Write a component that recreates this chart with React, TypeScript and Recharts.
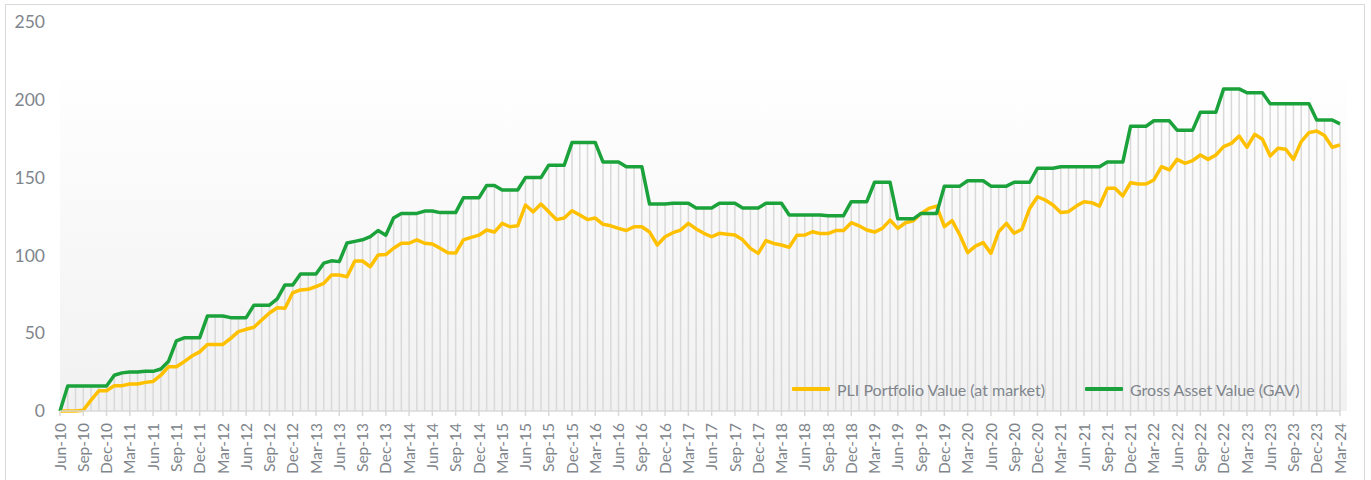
import React from 'react';
import { ComposedChart, Line, XAxis, YAxis, ReferenceLine, ReferenceArea } from 'recharts';

const MONTH_NAMES = ['Jan', 'Feb', 'Mar', 'Apr', 'May', 'Jun', 'Jul', 'Aug', 'Sep', 'Oct', 'Nov', 'Dec'];
// Monthly categories Jun-10 .. Mar-24
const CATEGORIES: string[] = Array.from({ length: 166 }, (_, k) => {
  const m = (5 + k) % 12;
  const y = 10 + Math.floor((5 + k) / 12);
  return `${MONTH_NAMES[m]}-${y}`;
});

const SERIES_NAMES = ['PLI Portfolio Value (at market)', 'Gross Asset Value (GAV)'];

const PLI: number[] = [
  0, 0, 0, 0.5, 7, 13, 13, 16.3, 16.3, 17.4, 17.4, 18.4,
  19, 23, 28.5, 28.5, 31.7, 35.3, 38, 42.8, 42.8, 42.8, 46.7, 51,
  52.5, 53.8, 58.5, 63, 66.4, 66, 76, 77.8, 78.2, 80, 82, 87.4,
  87.4, 86.3, 96.4, 96.4, 92.7, 100.3, 100.5, 104.6, 107.8, 107.8, 110, 107.8,
  107.3, 104.6, 101.7, 101.5, 110, 111.6, 113, 116.3, 115, 120.6, 118.4, 119,
  132.4, 128, 133, 128, 123, 124, 128.7, 126, 123, 124, 120, 119,
  117.4, 116, 118.4, 118.4, 115, 106.7, 112, 114.6, 116.3, 120.6, 117, 114.2,
  112, 114.2, 113.6, 113.1, 110, 104.5, 101.3, 109.5, 107.7, 106.7, 105.2, 113,
  113.1, 115.2, 114, 114, 116, 116, 121, 119, 116.3, 115, 117.4, 122.7,
  117.4, 121, 122.3, 127, 130.2, 131.7, 118.5, 122.3, 113.1, 101.8, 106, 108.2,
  101.3, 115.2, 120.6, 114.2, 116.8, 130.2, 137.7, 135.6, 132.4, 127.5, 128.1, 131.7,
  134.5, 133.9, 131.7, 143.1, 143.1, 138.2, 146.7, 145.9, 145.9, 148.5, 157, 154.9,
  161.7, 159.2, 160.9, 164.5, 161.7, 164.5, 169.9, 172, 176.7, 169.5, 177.8, 174.6,
  163.9, 168.8, 168.2, 161.7, 173.1, 178.9, 180, 177, 169.5, 171,
];

const GAV: number[] = [
  0, 16, 16, 16, 16, 16, 16, 23, 24.5, 25, 25, 25.5,
  25.5, 27, 32, 45, 47, 47, 47, 61, 61, 61, 60, 60,
  60, 68, 68, 68, 72, 81, 81, 88, 88, 88, 95, 96.5,
  96, 108, 109, 110, 112, 116, 113, 124, 127, 127, 127, 128.5,
  128.5, 127.5, 127.5, 127.5, 137, 137, 137, 145, 145, 142, 142, 142,
  150, 150, 150, 158, 158, 158, 172.5, 172.5, 172.5, 172.5, 160, 160,
  160, 157, 157, 157, 133, 133, 133, 133.5, 133.5, 133.5, 130.5, 130.5,
  130.5, 133.5, 133.5, 133.5, 130.5, 130.5, 130.5, 133.5, 133.5, 133.5, 126, 126,
  126, 126, 126, 125.5, 125.5, 125.5, 134.5, 134.5, 134.5, 147, 147, 147,
  123.5, 123.5, 123.5, 127, 127, 127, 144.5, 144.5, 144.5, 148, 148, 148,
  144.5, 144.5, 144.5, 147, 147, 147, 156, 156, 156, 157, 157, 157,
  157, 157, 157, 160, 160, 160, 183, 183, 183, 186.5, 186.5, 186.5,
  180.5, 180.5, 180.5, 192, 192, 192, 207, 207, 207, 204.5, 204.5, 204.5,
  197.5, 197.5, 197.5, 197.5, 197.5, 197.5, 187, 187, 187, 184.5,
];

const Y_TICKS = [0, 50, 100, 150, 200, 250];
const X_TICKS = CATEGORIES.map((_, i) => i).filter((i) => i % 3 === 0);

const data = CATEGORIES.map((month, i) => ({ i, month, pli: PLI[i], gav: GAV[i] }));

const TEXT = '#80858c';
const FONT = 'Lato, "Open Sans", sans-serif';
const YELLOW = '#FFC000';
const GREEN = '#1BA23B';

const XTick = (props: any) => {
  const { x, y, payload } = props;
  return (
    <g transform={`translate(${x},${y})`}>
      <text
        x={-5}
        y={0}
        dy="0.36em"
        textAnchor="end"
        transform="rotate(-90)"
        fill={TEXT}
        fontSize={15.5}
        fontFamily={FONT}
      >
        {CATEGORIES[payload.value]}
      </text>
    </g>
  );
};

export default function App() {
  return (
    <div style={{ position: 'absolute', left: 0, top: 0, width: 1371, height: 480, background: '#fff', overflow: 'hidden' }}>
      <div
        style={{
          position: 'absolute',
          left: 5,
          top: 4,
          width: 1360,
          height: 480,
          border: '1px solid #d9d9d9',
          boxSizing: 'border-box',
        }}
      />
      <div style={{ position: 'absolute', left: 0, top: 0 }}>
        <ComposedChart width={1371} height={480} data={data} margin={{ top: 22, right: 31, bottom: 0, left: 0 }}>
          <defs>
            <linearGradient id="bgGrad" x1="0" y1="0" x2="0" y2="1">
              <stop offset="0%" stopColor="#ffffff" />
              <stop offset="100%" stopColor="#f1f1f1" />
            </linearGradient>
          </defs>
          <XAxis
            type="number"
            dataKey="i"
            domain={[0, 165]}
            ticks={X_TICKS}
            interval={0}
            height={69}
            tickSize={5}
            axisLine={{ stroke: '#d9d9d9', strokeWidth: 1.5 }}
            tickLine={{ stroke: '#d9d9d9', strokeWidth: 1.5 }}
            tick={<XTick />}
            allowDecimals={false}
          />
          <YAxis
            type="number"
            domain={[0, 250]}
            ticks={Y_TICKS}
            width={60}
            axisLine={false}
            tickLine={false}
            tickMargin={9}
            tick={{ fill: TEXT, fontSize: 17.5, fontFamily: FONT }}
          />
          <ReferenceArea
            x1={0}
            x2={165.9}
            y1={0}
            y2={221}
            fill="url(#bgGrad)"
            fillOpacity={1}
            stroke="none"
            ifOverflow="visible"
          />
          {GAV.map((v, i) => (
            <ReferenceLine
              key={`d${i}`}
              segment={[{ x: i, y: 0 }, { x: i, y: v }]}
              stroke="#d9d9d9"
              strokeWidth={1.5}
            />
          ))}
          <Line
            type="linear"
            dataKey="pli"
            name={SERIES_NAMES[0]}
            stroke={YELLOW}
            strokeWidth={3.5}
            dot={false}
            strokeLinejoin="round"
            isAnimationActive={false}
          />
          <Line
            type="linear"
            dataKey="gav"
            name={SERIES_NAMES[1]}
            stroke={GREEN}
            strokeWidth={3.5}
            dot={false}
            strokeLinejoin="round"
            isAnimationActive={false}
          />
        </ComposedChart>
      </div>
      {[
        { name: SERIES_NAMES[0], color: YELLOW, left: 792 },
        { name: SERIES_NAMES[1], color: GREEN, left: 1085 },
      ].map((item) => (
        <div
          key={item.name}
          style={{
            position: 'absolute',
            left: item.left,
            top: 378,
            height: 22,
            display: 'flex',
            alignItems: 'center',
            fontFamily: FONT,
            fontSize: 16,
            color: TEXT,
            whiteSpace: 'nowrap',
          }}
        >
          <span style={{ display: 'inline-block', width: 38, height: 4, background: item.color, marginRight: 7, borderRadius: 1 }} />
          <span>{item.name}</span>
        </div>
      ))}
    </div>
  );
}
